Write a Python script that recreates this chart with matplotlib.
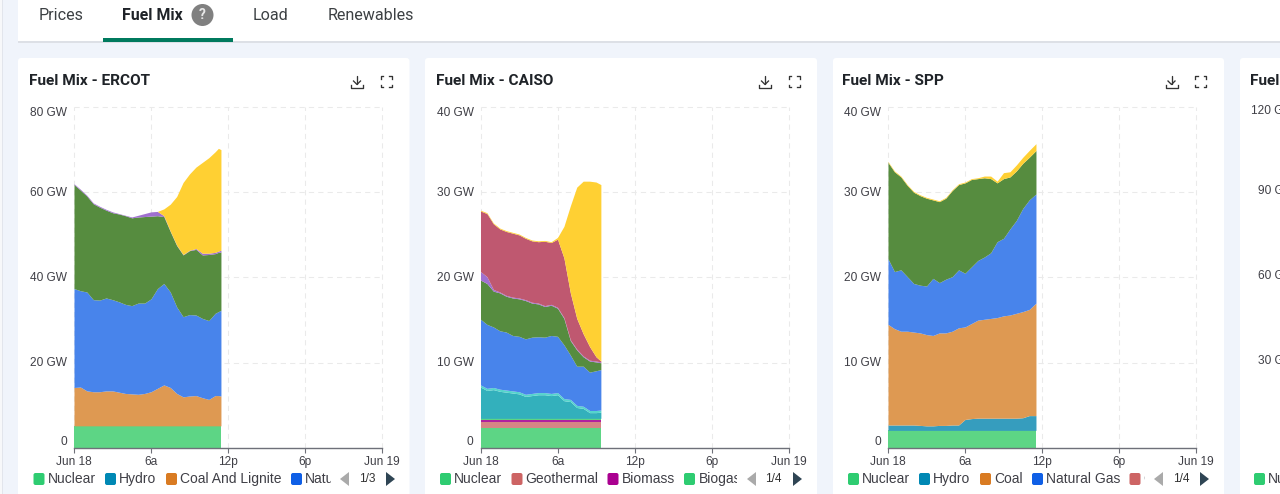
import numpy as np
import matplotlib
matplotlib.use("Agg")
import matplotlib.pyplot as plt
from matplotlib.patches import FancyBboxPatch, Rectangle, Polygon, Circle
from matplotlib.transforms import ScaledTranslation

# ---------- data: stacked layer tops in GW ----------
tick_hours = [0, 6, 12, 18, 24]
tick_names = ["Jun 18", "6a", "12p", "6p", "Jun 19"]

ercot_hours = [0, .5, 1, 1.5, 2, 2.5, 3, 3.5, 4, 4.5, 5, 5.5, 6, 6.5, 7, 7.5, 8, 8.5, 9, 9.5, 10, 10.5, 11, 11.25, 11.45]
ercot_nuclear = [5.2] * 25
ercot_coal = [14.2, 14.3, 13.4, 13.2, 13.2, 13.4, 13.4, 13.1, 12.8, 12.7, 12.6, 12.8, 13.2, 14.0, 14.8, 14.2, 12.8, 12.0, 12.2, 12.3, 11.8, 11.4, 12.3, 12.3, 12.2]
ercot_gas = [37.4, 36.9, 36.6, 34.8, 34.7, 35.2, 34.8, 34.3, 33.7, 33.4, 34.0, 34.0, 35.0, 37.4, 38.6, 36.6, 33.1, 30.8, 31.3, 31.2, 30.4, 29.9, 31.6, 32.0, 32.3]
ercot_wind = [61.8, 60.5, 59.1, 57.3, 56.5, 55.8, 55.2, 54.9, 54.5, 54.0, 54.2, 54.3, 54.4, 54.5, 54.3, 50.8, 47.5, 45.3, 46.3, 46.6, 45.3, 45.4, 45.6, 45.9, 46.0]
ercot_storage = [62.0, 60.7, 59.3, 57.5, 56.7, 56.0, 55.4, 55.0, 54.6, 54.2, 54.6, 55.0, 55.4, 55.5, 54.5, 50.9, 47.6, 45.4, 46.4, 46.8, 45.7, 45.7, 45.9, 46.2, 46.4]
ercot_solar = [62.0, 60.7, 59.3, 57.5, 56.7, 56.0, 55.4, 55.0, 54.6, 54.2, 54.6, 55.0, 55.4, 55.5, 56.1, 57.2, 59.0, 62.3, 64.3, 65.9, 67.0, 68.1, 69.5, 70.3, 70.0]

caiso_hours = [0, .5, 1, 1.5, 2, 2.5, 3, 3.5, 4, 4.5, 5, 5.5, 6, 6.5, 7, 7.5, 8, 8.5, 9, 9.38]
caiso_nuclear = [2.3] * 20
caiso_geothermal = [3.1] * 20
caiso_biomass = [3.3] * 20
caiso_biogas = [3.48] * 20
caiso_small_hydro = [7.15, 6.75, 6.85, 6.65, 6.55, 6.45, 6.35, 6.05, 6.15, 6.25, 6.25, 6.15, 6.25, 5.55, 5.45, 4.75, 4.65, 4.15, 4.15, 4.2]
caiso_hydro = [7.4, 7.0, 7.1, 6.9, 6.8, 6.7, 6.6, 6.3, 6.4, 6.5, 6.5, 6.4, 6.5, 5.8, 5.7, 5.0, 4.9, 4.4, 4.4, 4.45]
caiso_gas = [15.1, 14.5, 14.2, 13.75, 13.6, 13.2, 13.1, 12.8, 13.0, 13.05, 13.0, 13.2, 13.1, 12.1, 10.9, 9.6, 9.6, 8.9, 9.06, 9.2]
caiso_wind = [19.7, 19.3, 18.4, 18.2, 17.8, 17.6, 17.5, 17.3, 17.0, 16.9, 16.6, 16.75, 16.4, 15.2, 12.6, 11.5, 10.7, 10.2, 10.1, 10.0]
caiso_storage = [20.7, 20.1, 18.6, 18.3, 17.9, 17.7, 17.6, 17.4, 17.1, 17.0, 16.7, 16.85, 16.5, 15.3, 12.7, 11.6, 10.8, 10.3, 10.2, 10.1]
caiso_imports = [27.8, 27.5, 26.3, 25.7, 25.4, 25.2, 25.0, 24.6, 24.3, 24.2, 24.25, 24.1, 24.5, 22.3, 18.2, 15.2, 13.4, 11.9, 10.7, 10.2]
caiso_solar = [27.9, 27.6, 26.4, 25.8, 25.5, 25.3, 25.1, 24.7, 24.4, 24.3, 24.35, 24.2, 24.7, 26.0, 28.4, 30.6, 31.3, 31.3, 31.2, 30.9]

spp_hours = [0, .5, 1, 1.5, 2, 2.5, 3, 3.5, 4, 4.5, 5, 5.5, 6, 6.5, 7, 7.5, 8, 8.5, 9, 9.5, 10, 10.5, 11, 11.53]
spp_nuclear = [2.07] * 24
spp_hydro = [2.7, 2.7, 2.7, 2.7, 2.7, 2.65, 2.6, 2.6, 2.65, 2.65, 2.7, 2.7, 3.35, 3.45, 3.5, 3.5, 3.5, 3.5, 3.5, 3.5, 3.5, 3.55, 3.8, 3.8]
spp_coal = [14.5, 14.0, 13.7, 13.7, 13.6, 13.5, 13.3, 13.2, 13.5, 13.5, 13.7, 14.1, 14.2, 14.6, 15.0, 15.1, 15.2, 15.3, 15.5, 15.6, 15.8, 16.0, 16.25, 17.0]
spp_gas = [22.2, 20.7, 20.9, 20.1, 19.3, 19.1, 19.0, 19.9, 19.4, 19.8, 20.1, 20.9, 20.5, 21.25, 22.0, 22.4, 22.9, 24.2, 24.6, 25.7, 26.7, 28.1, 29.1, 29.8]
spp_wind = [33.5, 32.4, 31.8, 30.8, 30.0, 29.6, 29.3, 29.1, 28.9, 29.3, 30.2, 30.9, 31.1, 31.5, 31.6, 31.7, 31.6, 31.1, 31.6, 31.8, 32.5, 33.4, 34.1, 34.9]
spp_solar = [33.6, 32.5, 31.9, 30.9, 30.1, 29.7, 29.4, 29.2, 29.0, 29.4, 30.3, 31.0, 31.2, 31.6, 31.7, 31.9, 31.9, 31.3, 32.3, 32.4, 33.2, 34.1, 34.9, 35.7]

ercot_yticks = [0, 20, 40, 60, 80]
caiso_yticks = [0, 10, 20, 30, 40]
spp_yticks = [0, 10, 20, 30, 40]
fourth_ylabels = ["120 GW", "90 GW", "60 GW", "30 GW"]
tabs = ["Prices", "Fuel Mix", "Load", "Renewables"]

# ---------- colours ----------
FILL = dict(nuclear="#5DD585", geo="#D58585", biomass="#B0209F", biogas="#5DD585", hydro="#369DBE",
            coal="#DE9952", gas="#4884EB", wind="#568C3F", storage="#A070D0", imports="#BF5870",
            solar="#FFD033", caiso_hydro="#33B0BC", small="#55D5CC")
SW = dict(nuclear="#2ECC71", hydro="#0088B4", coal="#D97B22", gas="#0F5FE6", geo="#CD6464", biomass="#AA0090", biogas="#2ECC71")
BG = "#F0F4FB"
LAB = "#3F3F46"

W, H = 1280, 494
fig = plt.figure(figsize=(W / 100, H / 100), dpi=100, facecolor=BG)
bg = fig.add_axes([0, 0, 1, 1], zorder=0)
bg.set_xlim(0, W); bg.set_ylim(H, 0); bg.axis("off")
top = fig.add_axes([0, 0, 1, 1], zorder=5)
top.set_xlim(0, W); top.set_ylim(H, 0); top.axis("off"); top.patch.set_alpha(0)


def card(x0, x1):
    bg.add_patch(FancyBboxPatch((x0 + 3, 61), x1 - x0 - 6, 500, boxstyle="round,pad=3", fc="white", ec="none", clip_on=True))


# left strip, nav bar
bg.add_patch(Rectangle((0, 0), 2, H, fc="#F7F8FA", ec="none"))
bg.add_patch(Rectangle((2, 0), .6, H, fc="#E2E5EC", ec="none"))
bg.add_patch(Rectangle((18, 41), W, 2, fc="#DDE0E6", ec="none"))
bg.add_patch(Rectangle((18, 0), W, 41, fc="white", ec="none"))
bg.add_patch(Rectangle((102.5, 38), 130.5, 4, fc="#007A5E", ec="none"))
tab_x = [38.5, 122, 253, 327.5]
for name, x in zip(tabs, tab_x):
    active = name == "Fuel Mix"
    top.text(x, 15.5, name, family="Roboto", fontsize=11.4 if active else 11.6, color="#1F2328" if active else "#3C4043",
             weight="bold" if active else "normal", va="center", ha="left")
top.add_patch(Circle((202.5, 15), 11, fc="#808080", ec="none"))
top.text(202.5, 15.3, "?", family="Roboto", fontsize=10, color="#E8E8E8", weight="bold", ha="center", va="center")

for a, b in [(18, 409.5), (425, 817), (833, 1224), (1240, 1700)]:
    card(a, b)


def icons(x1, x2):
    c, lw = "#333333", 0.95
    # download
    y = 82
    top.plot([x1, x1], [76, 84], color=c, lw=lw, solid_capstyle="round")
    top.plot([x1 - 3.5, x1, x1 + 3.5], [81, 84.5, 81], color=c, lw=lw)
    top.plot([x1 - 6, x1 - 6, x1 + 6, x1 + 6], [85, 88, 88, 85], color=c, lw=lw)
    # fullscreen corners
    s, e = 5.5, 2.5
    for sx in (-1, 1):
        for sy in (-1, 1):
            top.plot([x2 + sx * s, x2 + sx * s, x2 + sx * (s - e)], [y + sy * (s - e), y + sy * s, y + sy * s],
                     color=c, lw=lw)


def legend(items, clip_x, pager, tri_l, tri_r, pager_x):
    y = 479
    clip = Rectangle((0, 440), clip_x, 54, transform=top.transData)
    for label, col, sx, tx in items:
        top.add_patch(FancyBboxPatch((sx + 2, y - 4), 7, 8, boxstyle="round,pad=2", fc=col, ec="none"))
        t = top.text(tx, y - 0.5, label, family="Liberation Sans", fontsize=10, color=LAB, va="center", ha="left")
        t.set_clip_path(clip)
        t.set_clip_on(True)
    top.add_patch(Polygon([[tri_l + 9, y - 7], [tri_l + 9, y + 7], [tri_l, y]], fc="#AAAAAA", ec="none"))
    top.add_patch(Polygon([[tri_r, y - 7], [tri_r, y + 7], [tri_r + 9, y]], fc="#2F4554", ec="none"))
    top.text(pager_x, y, pager, family="Liberation Sans", fontsize=8.6, color="#333", ha="center", va="center")


def chart(x0, title, title_x, yticks, hours, layers, icon_x):
    x1 = x0 + 308
    y0, y1 = 107, 448
    ax = fig.add_axes([x0 / W, 1 - y1 / H, (x1 - x0) / W, (y1 - y0) / H], zorder=3)
    ax.patch.set_alpha(0)
    ax.set_xlim(0, 24)
    ax.set_ylim(0, yticks[-1])
    ax.set_axisbelow(True)
    ax.grid(True, color="#EAEAEA", lw=0.75, ls=(0, (5, 4)))
    for gl in ax.get_xgridlines() + ax.get_ygridlines():
        gl.set_clip_on(False)
    lower = np.zeros(len(hours))
    for topv, col in layers:
        topv = np.asarray(topv, float)
        ax.fill_between(hours, lower, topv, color=col, lw=0, zorder=2)
        lower = topv
    for s in ("top", "right", "left"):
        ax.spines[s].set_visible(False)
    ax.spines["bottom"].set_color("#6E7079")
    ax.spines["bottom"].set_linewidth(1)
    ax.spines["bottom"].set_zorder(4)
    ax.set_xticks(tick_hours)
    ax.set_xticklabels(tick_names, family="Liberation Sans", fontsize=8.6, color=LAB)
    ax.tick_params(axis="x", length=3.6, width=0.8, color="#6E7079", pad=2)
    ax.set_yticks(yticks)
    labels = ["0"] + [f"{v} GW" for v in yticks[1:]]
    ax.set_yticklabels(labels, family="Liberation Sans", fontsize=8.6, color=LAB)
    ax.tick_params(axis="y", length=0, pad=5)
    ticklabs = ax.get_yticklabels()
    ticklabs[0].set_verticalalignment("bottom")
    ticklabs[-1].set_verticalalignment("top")
    up = ScaledTranslation(0, 1.2 / 100, fig.dpi_scale_trans)
    for lab in ticklabs[1:-1]:
        lab.set_transform(lab.get_transform() + up)
    top.text(title_x, 81, title, family="Roboto", fontsize=11.1, weight="bold", color="#1F2328", va="center", ha="left")
    icons(icon_x, icon_x + 29)
    return ax


chart(74, "Fuel Mix - ERCOT", 29, ercot_yticks, ercot_hours, [
    (ercot_nuclear, FILL["nuclear"]), (ercot_coal, FILL["coal"]), (ercot_gas, FILL["gas"]),
    (ercot_wind, FILL["wind"]), (ercot_storage, FILL["storage"]), (ercot_solar, FILL["solar"])], 357)
legend([("Nuclear", SW["nuclear"], 33.5, 47.5), ("Hydro", SW["hydro"], 105, 119),
        ("Coal And Lignite", SW["coal"], 166, 180), ("Natural", SW["gas"], 291, 305)],
       331, "1/3", 340, 386, 367)

chart(480.5, "Fuel Mix - CAISO", 435.5, caiso_yticks, caiso_hours, [
    (caiso_nuclear, FILL["nuclear"]), (caiso_geothermal, FILL["geo"]), (caiso_biomass, FILL["biomass"]),
    (caiso_biogas, FILL["biogas"]), (caiso_small_hydro, FILL["caiso_hydro"]), (caiso_hydro, FILL["small"]),
    (caiso_gas, FILL["gas"]), (caiso_wind, FILL["wind"]), (caiso_storage, FILL["storage"]),
    (caiso_imports, FILL["imports"]), (caiso_solar, FILL["solar"])], 765)
legend([("Nuclear", SW["nuclear"], 440, 454), ("Geothermal", SW["geo"], 511.5, 525.5),
        ("Biomass", SW["biomass"], 607.5, 621.5), ("Biogas", SW["biogas"], 684, 698.5)],
       737, "1/4", 747, 793, 773.5)

chart(888, "Fuel Mix - SPP", 842.5, spp_yticks, spp_hours, [
    (spp_nuclear, FILL["nuclear"]), (spp_hydro, FILL["hydro"]), (spp_coal, FILL["coal"]),
    (spp_gas, FILL["gas"]), (spp_wind, FILL["wind"]), (spp_solar, FILL["solar"])], 1171.5)
legend([("Nuclear", SW["nuclear"], 848, 861.5), ("Hydro", SW["hydro"], 919, 933),
        ("Coal", SW["coal"], 980, 994), ("Natural Gas", SW["gas"], 1032, 1046),
        ("Geo", SW["geo"], 1129.5, 1143.5)],
       1145, "1/4", 1154, 1200, 1181)

# fourth card, cut by the page edge
top.text(1249.5, 81, "Fuel Mix", family="Roboto", fontsize=11.1, weight="bold", color="#1F2328", va="center", ha="left")
for lab, y in zip(fourth_ylabels, [110.5, 190.7, 275.7, 361]):
    top.text(1295, y, lab, family="Liberation Sans", fontsize=8.6, color=LAB, ha="right", va="center")
top.add_patch(FancyBboxPatch((1256, 475), 7, 8, boxstyle="round,pad=2", fc=SW["nuclear"], ec="none"))
top.text(1268, 478.5, "Nuclear", family="Liberation Sans", fontsize=10, color=LAB, va="center", ha="left")

fig.savefig("out.png", dpi=100, facecolor=BG)
